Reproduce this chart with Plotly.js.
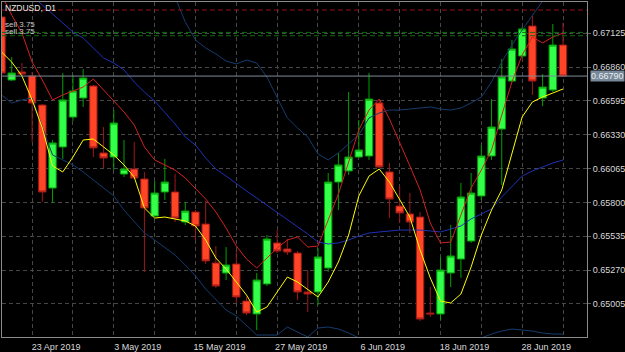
<!DOCTYPE html>
<html><head><meta charset="utf-8">
<script src="https://cdn.plot.ly/plotly-3.0.1.min.js"></script>
<style>html,body{margin:0;padding:0;background:#000;overflow:hidden}#chart{width:625px;height:352px}</style>
</head><body><div id="chart"></div>
<script>
const dates = ['2019-04-18','2019-04-19','2019-04-22','2019-04-23','2019-04-24','2019-04-25','2019-04-26','2019-04-29','2019-04-30','2019-05-01',
 '2019-05-02','2019-05-03','2019-05-06','2019-05-07','2019-05-08','2019-05-09','2019-05-10','2019-05-13','2019-05-14','2019-05-15',
 '2019-05-16','2019-05-17','2019-05-20','2019-05-21','2019-05-22','2019-05-23','2019-05-24','2019-05-27','2019-05-28','2019-05-29',
 '2019-05-30','2019-05-31','2019-06-03','2019-06-04','2019-06-05','2019-06-06','2019-06-07','2019-06-10','2019-06-11','2019-06-12',
 '2019-06-13','2019-06-14','2019-06-17','2019-06-18','2019-06-19','2019-06-20','2019-06-21','2019-06-24','2019-06-25','2019-06-26',
 '2019-06-27','2019-06-28','2019-07-01','2019-07-02','2019-07-03','2019-07-04'];

const open  = [0.67253,0.66759,0.66822,0.66791,0.66563,0.65913,0.66235,0.66469,0.66618,0.66712,
 0.66188,0.66156,0.66023,0.66062,0.65984,0.65694,0.65882,0.65882,0.65647,0.65725,
 0.65631,0.65326,0.65248,0.65318,0.65028,0.64927,0.65162,0.65483,0.65436,0.65404,
 0.65099,0.65099,0.65287,0.65960,0.66047,0.66156,0.66164,0.66579,0.66039,0.65772,
 0.65710,0.65686,0.64934,0.64927,0.65248,0.65357,0.65498,0.65851,0.66164,0.66375,
 0.66751,0.66947,0.67182,0.66618,0.66681,0.67033];
const high  = [0.67276,0.66939,0.66892,0.66822,0.66571,0.66289,0.66814,0.66798,0.66845,0.66720,
 0.66391,0.66524,0.66289,0.66274,0.66039,0.65968,0.66141,0.66023,0.65804,0.65741,
 0.65812,0.65459,0.65451,0.65428,0.65060,0.65248,0.65545,0.65584,0.65514,0.65420,
 0.65271,0.65443,0.66031,0.66188,0.66665,0.66446,0.66814,0.66610,0.66109,0.65929,
 0.65874,0.65725,0.65138,0.65373,0.65624,0.65953,0.66031,0.66250,0.66610,0.66924,
 0.67073,0.67174,0.67260,0.66806,0.67198,0.67206];
const low   = [0.66798,0.66751,0.66783,0.66274,0.65804,0.65796,0.66141,0.66438,0.66548,0.66156,
 0.66070,0.66054,0.65999,0.65984,0.65256,0.65686,0.65819,0.65647,0.65624,0.65506,
 0.65318,0.65130,0.65193,0.65013,0.64919,0.64801,0.65146,0.65404,0.65389,0.65036,
 0.64942,0.64997,0.65256,0.65741,0.66015,0.66148,0.66133,0.66070,0.65678,0.65639,
 0.65561,0.64872,0.64903,0.64880,0.65138,0.65209,0.65483,0.65819,0.66133,0.65937,
 0.66744,0.66932,0.66642,0.66556,0.66665,0.66783];
const close = [0.66814,0.66814,0.66806,0.66579,0.65882,0.66266,0.66603,0.66673,0.66775,0.66227,
 0.66148,0.66422,0.66062,0.65992,0.65757,0.65874,0.65960,0.65678,0.65733,0.65616,
 0.65342,0.65146,0.65310,0.65060,0.64934,0.65193,0.65514,0.65420,0.65412,0.65099,
 0.65083,0.65373,0.65960,0.66094,0.66156,0.66211,0.66610,0.66078,0.65827,0.65718,
 0.65647,0.64887,0.64927,0.65271,0.65381,0.65843,0.65874,0.66164,0.66391,0.66783,
 0.67002,0.67159,0.66751,0.66704,0.67033,0.66790];

const maFast = [0.66979,0.66900,0.66791,0.66603,0.66383,0.66086,0.66039,0.66156,0.66289,0.66297,
 0.66235,0.66172,0.66094,0.65999,0.65757,0.65678,0.65686,0.65671,0.65655,0.65616,
 0.65506,0.65365,0.65279,0.65177,0.65075,0.64942,0.64981,0.65099,0.65216,0.65177,
 0.65122,0.65060,0.65177,0.65334,0.65545,0.65851,0.66007,0.66062,0.65960,0.65819,
 0.65686,0.65428,0.65209,0.65028,0.65013,0.65083,0.65295,0.65545,0.65741,0.65898,
 0.66195,0.66470,0.66587,0.66626,0.66657,0.66689];
const maRed = [0.67425,0.67268,0.67127,0.66900,0.66759,0.66603,0.66642,0.66673,0.66704,0.66767,
 0.66681,0.66595,0.66509,0.66407,0.66235,0.66133,0.66094,0.66054,0.65992,0.65906,
 0.65827,0.65725,0.65600,0.65459,0.65357,0.65287,0.65365,0.65443,0.65506,0.65530,
 0.65451,0.65459,0.65663,0.65866,0.66117,0.66368,0.66524,0.66610,0.66454,0.66274,
 0.66086,0.65898,0.65639,0.65483,0.65490,0.65702,0.65913,0.66054,0.66211,0.66485,
 0.66744,0.66955,0.67096,0.67049,0.67096,0.67127];
const bandMid = [0.67699,0.67605,0.67503,0.67417,0.67347,0.67276,0.67206,0.67135,0.67088,0.67010,
 0.66932,0.66892,0.66838,0.66744,0.66665,0.66595,0.66509,0.66415,0.66313,0.66250,
 0.66148,0.66062,0.66007,0.65945,0.65890,0.65835,0.65780,0.65718,0.65663,0.65608,
 0.65553,0.65490,0.65475,0.65483,0.65506,0.65537,0.65561,0.65569,0.65577,0.65584,
 0.65584,0.65584,0.65577,0.65569,0.65592,0.65616,0.65671,0.65710,0.65749,0.65843,
 0.65929,0.66007,0.66047,0.66078,0.66109,0.66133];
const bandUp = [0.68756,0.68631,0.68404,0.68216,0.68287,0.68365,0.68279,0.68177,0.68138,0.68044,
 0.67950,0.67934,0.67934,0.67840,0.67770,0.67683,0.67566,0.67409,0.67214,0.67073,
 0.67010,0.66963,0.66908,0.66885,0.66916,0.66892,0.66783,0.66626,0.66462,0.66383,
 0.66313,0.66180,0.66133,0.66188,0.66258,0.66329,0.66462,0.66501,0.66524,0.66524,
 0.66532,0.66540,0.66548,0.66532,0.66524,0.66540,0.66579,0.66626,0.66744,0.66900,
 0.67033,0.67151,0.67268,0.67386,0.67503,0.67605];
const bandLow = [0.66642,0.66579,0.66603,0.66618,0.66391,0.66172,0.66133,0.66094,0.66039,0.65976,
 0.65913,0.65851,0.65741,0.65647,0.65561,0.65506,0.65451,0.65389,0.65310,0.65224,
 0.65122,0.65036,0.64958,0.64911,0.64833,0.64762,0.64762,0.64762,0.64825,0.64786,
 0.64746,0.64817,0.64825,0.64809,0.64778,0.64739,0.64660,0.64637,0.64629,0.64645,
 0.64637,0.64629,0.64605,0.64605,0.64660,0.64692,0.64707,0.64739,0.64770,0.64793,
 0.64809,0.64801,0.64793,0.64778,0.64770,0.64770];

const gridDates = ['2019-04-23','2019-04-29','2019-05-03','2019-05-09','2019-05-15','2019-05-21','2019-05-27','2019-05-31',
 '2019-06-06','2019-06-12','2019-06-18','2019-06-24','2019-06-28','2019-07-04'];
const gridLabels = ['23 Apr 2019','','3 May 2019','','15 May 2019','','27 May 2019','','6 Jun 2019','','18 Jun 2019','','28 Jun 2019',''];
const priceTicks = [0.65005,0.65270,0.65535,0.65800,0.66065,0.66330,0.66595,0.66860,0.67125];
const bidPrice = 0.66790;
const stopLevel = 0.67307;
const orderLevels = [0.67132, 0.67106];
const symbolTitle = 'NZDUSD, D1';
const orderTexts = ['sell 3.75','sell 3.75'];

const FONT = 'Liberation Sans, Arial, sans-serif';

function line(y, color) {
  return {type:'scatter', mode:'lines', x:dates, y:y, line:{color:color, width:1}, hoverinfo:'skip'};
}

const traces = [
  {type:'candlestick', x:dates, open:open, high:high, low:low, close:close,
   increasing:{line:{color:'#00a000', width:1}, fillcolor:'#33ff4a'},
   decreasing:{line:{color:'#a01818', width:1}, fillcolor:'#ff4526'},
   whiskerwidth:0, hoverinfo:'skip'},
  line(bandUp, '#163c6e'),
  line(bandLow, '#163c6e'),
  line(bandMid, '#1e32b4'),
  line(maRed, '#d42020'),
  line(maFast, '#ffff00')
];

const layout = {
  width:625, height:352,
  margin:{l:2, r:38, t:2, b:15, pad:0},
  paper_bgcolor:'#000', plot_bgcolor:'#000',
  showlegend:false,
  boxgap:0.28, boxgroupgap:0,
  font:{family:FONT, size:9, color:'#d8d8d8'},
  xaxis:{type:'category', range:[0.05,57.35], rangeslider:{visible:false},
    tickmode:'array', tickvals:gridDates, ticktext:gridLabels,
    showgrid:true, gridcolor:'#474747', griddash:'4px,3px', gridwidth:1,
    showline:true, mirror:true, linecolor:'#8a8a8a', linewidth:1,
    ticks:'', ticklabelshift:24, ticklabelstandoff:1,
    tickfont:{family:FONT, size:9, color:'#d8d8d8'}, zeroline:false, fixedrange:true},
  yaxis:{range:[0.647465,0.673701], side:'right',
    tickmode:'array', tickvals:priceTicks, tickformat:'.5f',
    showgrid:true, gridcolor:'#474747', griddash:'4px,3px', gridwidth:1,
    showline:true, mirror:true, linecolor:'#8a8a8a', linewidth:1,
    ticks:'outside', ticklen:3, tickcolor:'#606060',
    tickfont:{family:FONT, size:9, color:'#d8d8d8'}, zeroline:false, fixedrange:true},
  shapes:[
    {type:'line', xref:'paper', x0:0, x1:1, yref:'y', y0:stopLevel, y1:stopLevel, line:{color:'#9a1010', width:1, dash:'5px,3px'}},
    {type:'line', xref:'paper', x0:0, x1:1, yref:'y', y0:orderLevels[0], y1:orderLevels[0], line:{color:'#0e6e0e', width:1, dash:'5px,3px'}},
    {type:'line', xref:'paper', x0:0, x1:1, yref:'y', y0:orderLevels[1], y1:orderLevels[1], line:{color:'#0e6e0e', width:1, dash:'5px,3px'}},
    {type:'line', xref:'paper', x0:0, x1:1, yref:'y', y0:bidPrice, y1:bidPrice, line:{color:'#7f8c99', width:1}}
  ],
  annotations:[
    {text:symbolTitle, xref:'paper', yref:'paper', x:0.002, y:0.982, xanchor:'left', yanchor:'middle', showarrow:false,
     font:{family:FONT, size:8.5, color:'#e6e6e6'}},
    {text:orderTexts[0], xref:'paper', yref:'paper', x:0.002, y:0.933, xanchor:'left', yanchor:'middle', showarrow:false,
     font:{family:FONT, size:8, color:'#c8c8c8'}},
    {text:orderTexts[1], xref:'paper', yref:'paper', x:0.002, y:0.911, xanchor:'left', yanchor:'middle', showarrow:false,
     font:{family:FONT, size:8, color:'#c8c8c8'}},
    {text:bidPrice.toFixed(5), xref:'paper', yref:'y', x:1.0051, y:bidPrice, xanchor:'left', yanchor:'middle', showarrow:false,
     bgcolor:'#778899', borderpad:0, font:{family:FONT, size:9, color:'#e8ecf0'}}
  ]
};

Plotly.newPlot('chart', traces, layout, {displayModeBar:false, staticPlot:true});
</script></body></html>
